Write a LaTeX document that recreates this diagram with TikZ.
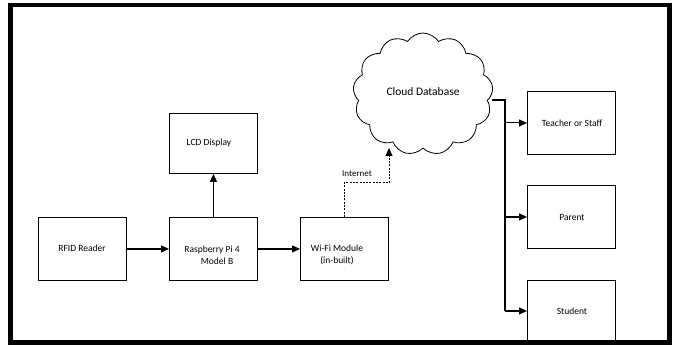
\documentclass[tikz,border=0pt]{standalone}
\usepackage{fontspec}
\setmainfont{Carlito}
\usetikzlibrary{shapes.symbols,arrows.meta}
\begin{document}
\begin{tikzpicture}[x=1pt,y=-1pt,
  blk/.style={draw,line width=0.9pt,minimum width=88pt,minimum height=63pt,inner sep=0pt,anchor=north west},
  lbl/.style={font=\fontsize{9.5}{11.5}\selectfont,align=center,inner sep=0pt},
  conn/.style={line width=1.1pt,-{Triangle[length=8pt,width=7pt]}},
]
\useasboundingbox (0,0) rectangle (676,347);
\draw[line width=4.5pt] (10.5,5) rectangle (669.5,342.5);
% boxes
\node[blk] (rfid) at (38,217) {};
\node[blk] (pi) at (169,217) {};
\node[blk] (wifi) at (300,217) {};
\node[blk,minimum height=60pt] (lcd) at (169,113) {};
\node[blk] (teacher) at (527,91) {};
\node[blk] (parent) at (527,185) {};
\node[blk,minimum height=61pt] (student) at (527,280) {};
% texts
\node[lbl] (trfid) at (82,248) {RFID Reader};
\node[lbl] (tpi) at (212,255) {Raspberry Pi 4\\\hspace*{10pt}Model B};
\node[lbl] (twifi) at (337,255) {Wi-Fi Module\\(in-built)};
\node[lbl] (tlcd) at (209,143) {LCD Display};
\node[lbl] (tteacher) at (572,123) {Teacher or Staff};
\node[lbl] (tparent) at (572,217) {Parent};
\node[lbl] (tstudent) at (572,311) {Student};
% cloud
\node[cloud,draw,line width=0.8pt,cloud puffs=13,cloud puff arc=115,aspect=1.2,
      minimum width=140pt,minimum height=122pt,inner sep=0pt] (cloud) at (423,94) {};
\node[lbl,font=\fontsize{11.5}{13}\selectfont] (tcloud) at (423,92) {Cloud Database};
% connectors
\draw[conn] (rfid.east) -- (pi.west);
\draw[conn] (pi.east) -- (wifi.west);
\draw[conn] (pi.north) -- (lcd.south);
\coordinate (inet1) at (344,183);
\coordinate (cin) at (389,148);
\draw[line width=1pt,dash pattern=on 2pt off 1.3pt,-{Triangle[length=8pt,width=7pt]}] (wifi.north -| inet1) -- (inet1) -| (cin);
\node[font=\fontsize{9}{10}\selectfont,inner sep=0pt] (tinet) at (357,174) {Internet};
\coordinate (bus) at (505,100);
\draw[line width=1.1pt] (cloud.east |- bus) -- (bus) -- (bus |- student.west);
\draw[conn] (bus |- teacher.west) -- (teacher.west);
\draw[conn] (bus |- parent.west) -- (parent.west);
\draw[conn] (bus |- student.west) -- (student.west);
\end{tikzpicture}
\end{document}
